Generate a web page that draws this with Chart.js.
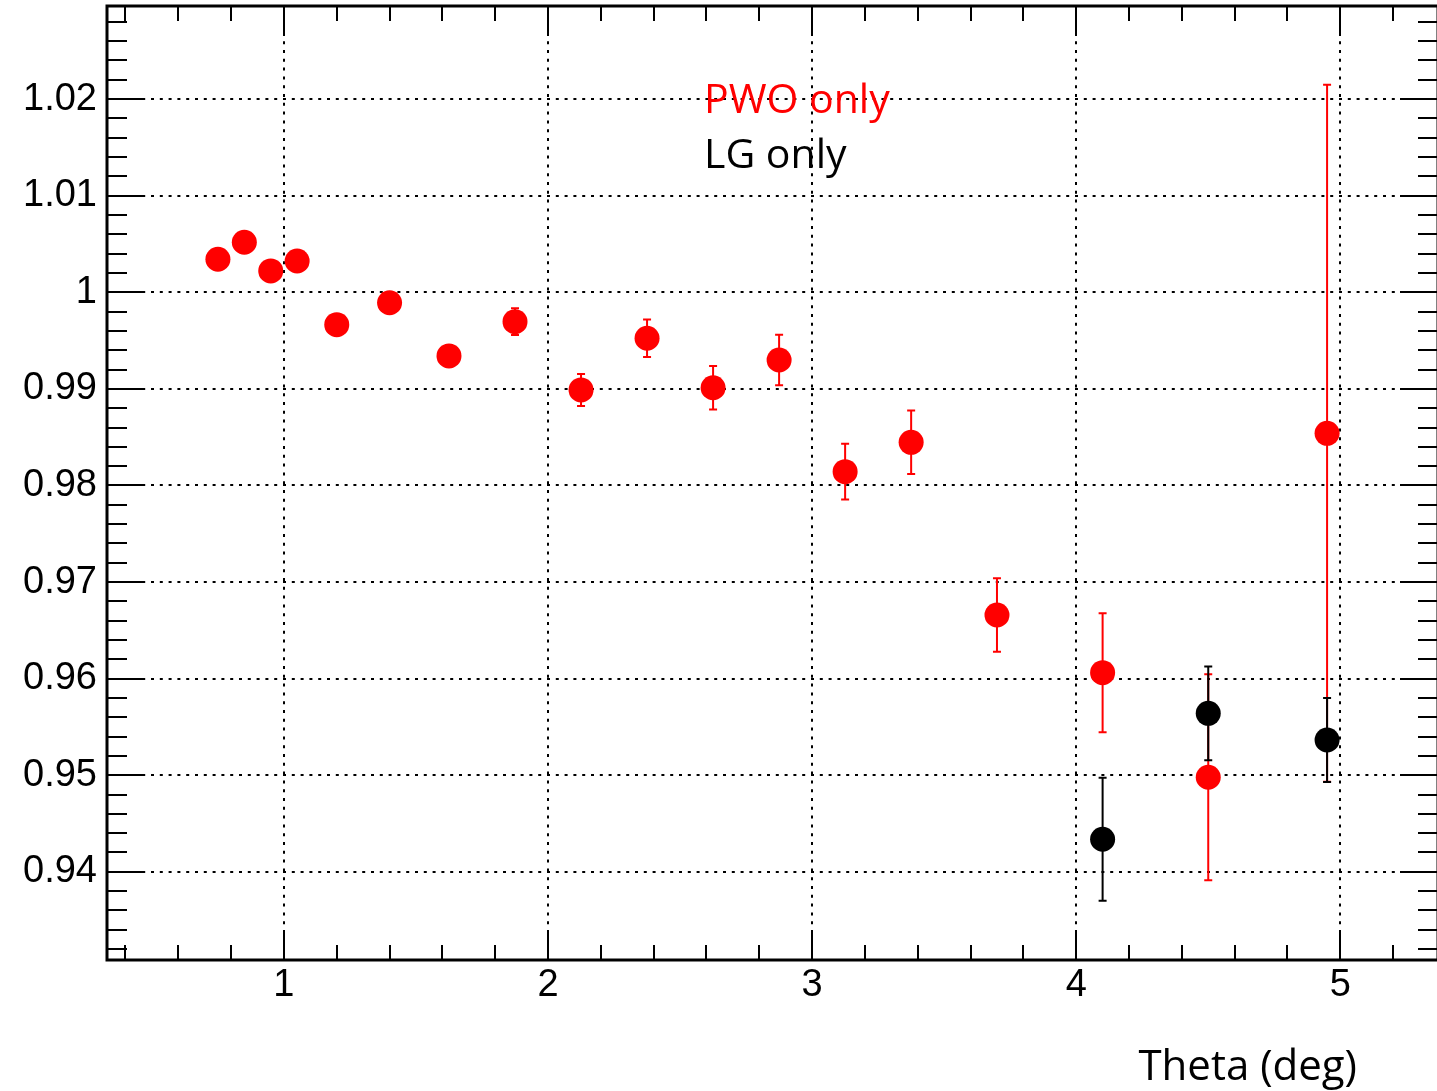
<!DOCTYPE html>
<html>
<head>
<meta charset="utf-8">
<title>PWO only / LG only vs Theta</title>
<script src="https://cdn.jsdelivr.net/npm/chart.js@4.4.0/dist/chart.umd.min.js"></script>
<style>
  html, body { margin: 0; padding: 0; background: #fff; overflow: hidden; }
  #wrap { position: relative; width: 1444px; height: 1091px; }
  canvas { display: block; }
</style>
</head>
<body>
<div id="wrap"><canvas id="chart" width="1444" height="1091"></canvas></div>
<script>
// Data
const pwoTheta = [0.75, 0.85, 0.95, 1.05, 1.2, 1.4, 1.625, 1.875, 2.125, 2.375, 2.625, 2.875, 3.125, 3.375, 3.7, 4.1, 4.5, 4.95];
const pwoRatio = [1.00342, 1.00518, 1.00221, 1.00324, 0.99665, 0.99892, 0.99341, 0.99696, 0.98989, 0.99524, 0.99012, 0.99299, 0.98143, 0.98447, 0.96659, 0.96062, 0.94979, 0.98540];
const pwoErr   = [0.0006, 0.0007, 0.0007, 0.0008, 0.0009, 0.0009, 0.0011, 0.00138, 0.00166, 0.00194, 0.00225, 0.00262, 0.00288, 0.00328, 0.00380, 0.00616, 0.01066, 0.03608];

const lgTheta = [4.1, 4.5, 4.95];
const lgRatio = [0.94337, 0.95641, 0.95365];
const lgErr   = [0.00637, 0.00485, 0.00435];

const xRange = [0.33, 5.37];
const yRange = [0.93087, 1.02964];
const xMajor = [1, 2, 3, 4, 5];
const xMinorStep = 0.2;
const yMinorStep = 0.002;

const legendLabels = ['PWO only', 'LG only'];
const xTitle = 'Theta (deg)';

const RED = '#ff0000';
const BLACK = '#000000';

function toPoints(xs, ys) {
  return xs.map((x, i) => ({ x: x, y: ys[i] }));
}

// Error bars drawn under the markers
const errorBars = {
  id: 'errorBars',
  beforeDatasetsDraw(chart) {
    const { ctx, scales: { x, y } } = chart;
    const sets = [
      { xs: pwoTheta, ys: pwoRatio, es: pwoErr, color: RED },
      { xs: lgTheta, ys: lgRatio, es: lgErr, color: BLACK }
    ];
    ctx.save();
    sets.forEach(s => {
      ctx.strokeStyle = s.color;
      ctx.lineWidth = 2;
      s.xs.forEach((xv, i) => {
        const px = x.getPixelForValue(xv);
        const top = y.getPixelForValue(s.ys[i] + s.es[i]);
        const bot = y.getPixelForValue(s.ys[i] - s.es[i]);
        ctx.beginPath();
        ctx.moveTo(px, top);
        ctx.lineTo(px, bot);
        ctx.moveTo(px - 4, top);
        ctx.lineTo(px + 4, top);
        ctx.moveTo(px - 4, bot);
        ctx.lineTo(px + 4, bot);
        ctx.stroke();
      });
    });
    ctx.restore();
  }
};

// ROOT-style frame, tick marks and texts
const frameAndTicks = {
  id: 'frameAndTicks',
  afterDraw(chart) {
    const { ctx, chartArea: a, scales: { x, y } } = chart;
    ctx.save();
    ctx.strokeStyle = BLACK;

    // tick marks
    ctx.lineWidth = 2;
    ctx.beginPath();
    for (let v = Math.ceil(xRange[0] / xMinorStep) * xMinorStep; v <= xRange[1]; v += xMinorStep) {
      const isMajor = xMajor.some(m => Math.abs(m - v) < 1e-6);
      const len = isMajor ? 30 : 15;
      const px = Math.round(x.getPixelForValue(v));
      ctx.moveTo(px, a.bottom);
      ctx.lineTo(px, a.bottom - len);
      ctx.moveTo(px, a.top);
      ctx.lineTo(px, a.top + len);
    }
    for (let v = Math.ceil(yRange[0] / yMinorStep) * yMinorStep; v <= yRange[1]; v += yMinorStep) {
      const k = Math.round(v / yMinorStep);
      const len = (k % 5 === 0) ? 38 : 20;
      const py = Math.round(y.getPixelForValue(v));
      ctx.moveTo(a.left, py);
      ctx.lineTo(a.left + len, py);
      ctx.moveTo(a.right, py);
      ctx.lineTo(a.right - len, py);
    }
    ctx.stroke();

    // frame
    ctx.lineWidth = 3;
    ctx.strokeRect(a.left, a.top, a.right - a.left, a.bottom - a.top);

    // legend texts
    ctx.font = '41px "Open Sans"';
    ctx.textAlign = 'left';
    ctx.textBaseline = 'alphabetic';
    ctx.fillStyle = RED;
    ctx.fillText(legendLabels[0], 704, 113);
    ctx.fillStyle = BLACK;
    ctx.fillText(legendLabels[1], 704, 168);

    // axis title
    ctx.font = '42px "Open Sans"';
    ctx.textAlign = 'right';
    ctx.fillText(xTitle, 1357, 1080);
    ctx.restore();
  }
};

const tickFont = { family: '"Liberation Sans", Arial, sans-serif', size: 38 };

new Chart(document.getElementById('chart'), {
  type: 'scatter',
  data: {
    datasets: [
      {
        label: legendLabels[0],
        data: toPoints(pwoTheta, pwoRatio),
        backgroundColor: RED,
        borderWidth: 0,
        pointRadius: 12.5,
        order: 2
      },
      {
        label: legendLabels[1],
        data: toPoints(lgTheta, lgRatio),
        backgroundColor: BLACK,
        borderWidth: 0,
        pointRadius: 12.5,
        order: 1
      }
    ]
  },
  options: {
    responsive: false,
    animation: false,
    layout: { autoPadding: false, padding: { top: 6, right: 6, left: 0, bottom: 0 } },
    plugins: {
      legend: { display: false },
      tooltip: { enabled: false }
    },
    scales: {
      x: {
        type: 'linear',
        min: xRange[0],
        max: xRange[1],
        afterFit(scale) {
          scale.height = 131;
          scale.paddingLeft = 0;
          scale.paddingRight = 0;
        },
        ticks: {
          stepSize: 1,
          includeBounds: false,
          padding: 3,
          color: BLACK,
          font: tickFont,
          maxRotation: 0,
          callback: v => String(v)
        },
        grid: { color: BLACK, lineWidth: 2, drawTicks: false },
        border: { display: false, dash: [3, 5.8] }
      },
      y: {
        type: 'linear',
        min: yRange[0],
        max: yRange[1],
        afterFit(scale) {
          scale.width = 107;
          scale.paddingTop = 0;
          scale.paddingBottom = 0;
        },
        ticks: {
          stepSize: 0.01,
          includeBounds: false,
          padding: 10,
          color: BLACK,
          font: tickFont,
          callback: v => String(parseFloat(Number(v).toFixed(2)))
        },
        grid: { color: BLACK, lineWidth: 2, drawTicks: false },
        border: { display: false, dash: [3, 5.8] }
      }
    }
  },
  plugins: [errorBars, frameAndTicks]
});
</script>
</body>
</html>
